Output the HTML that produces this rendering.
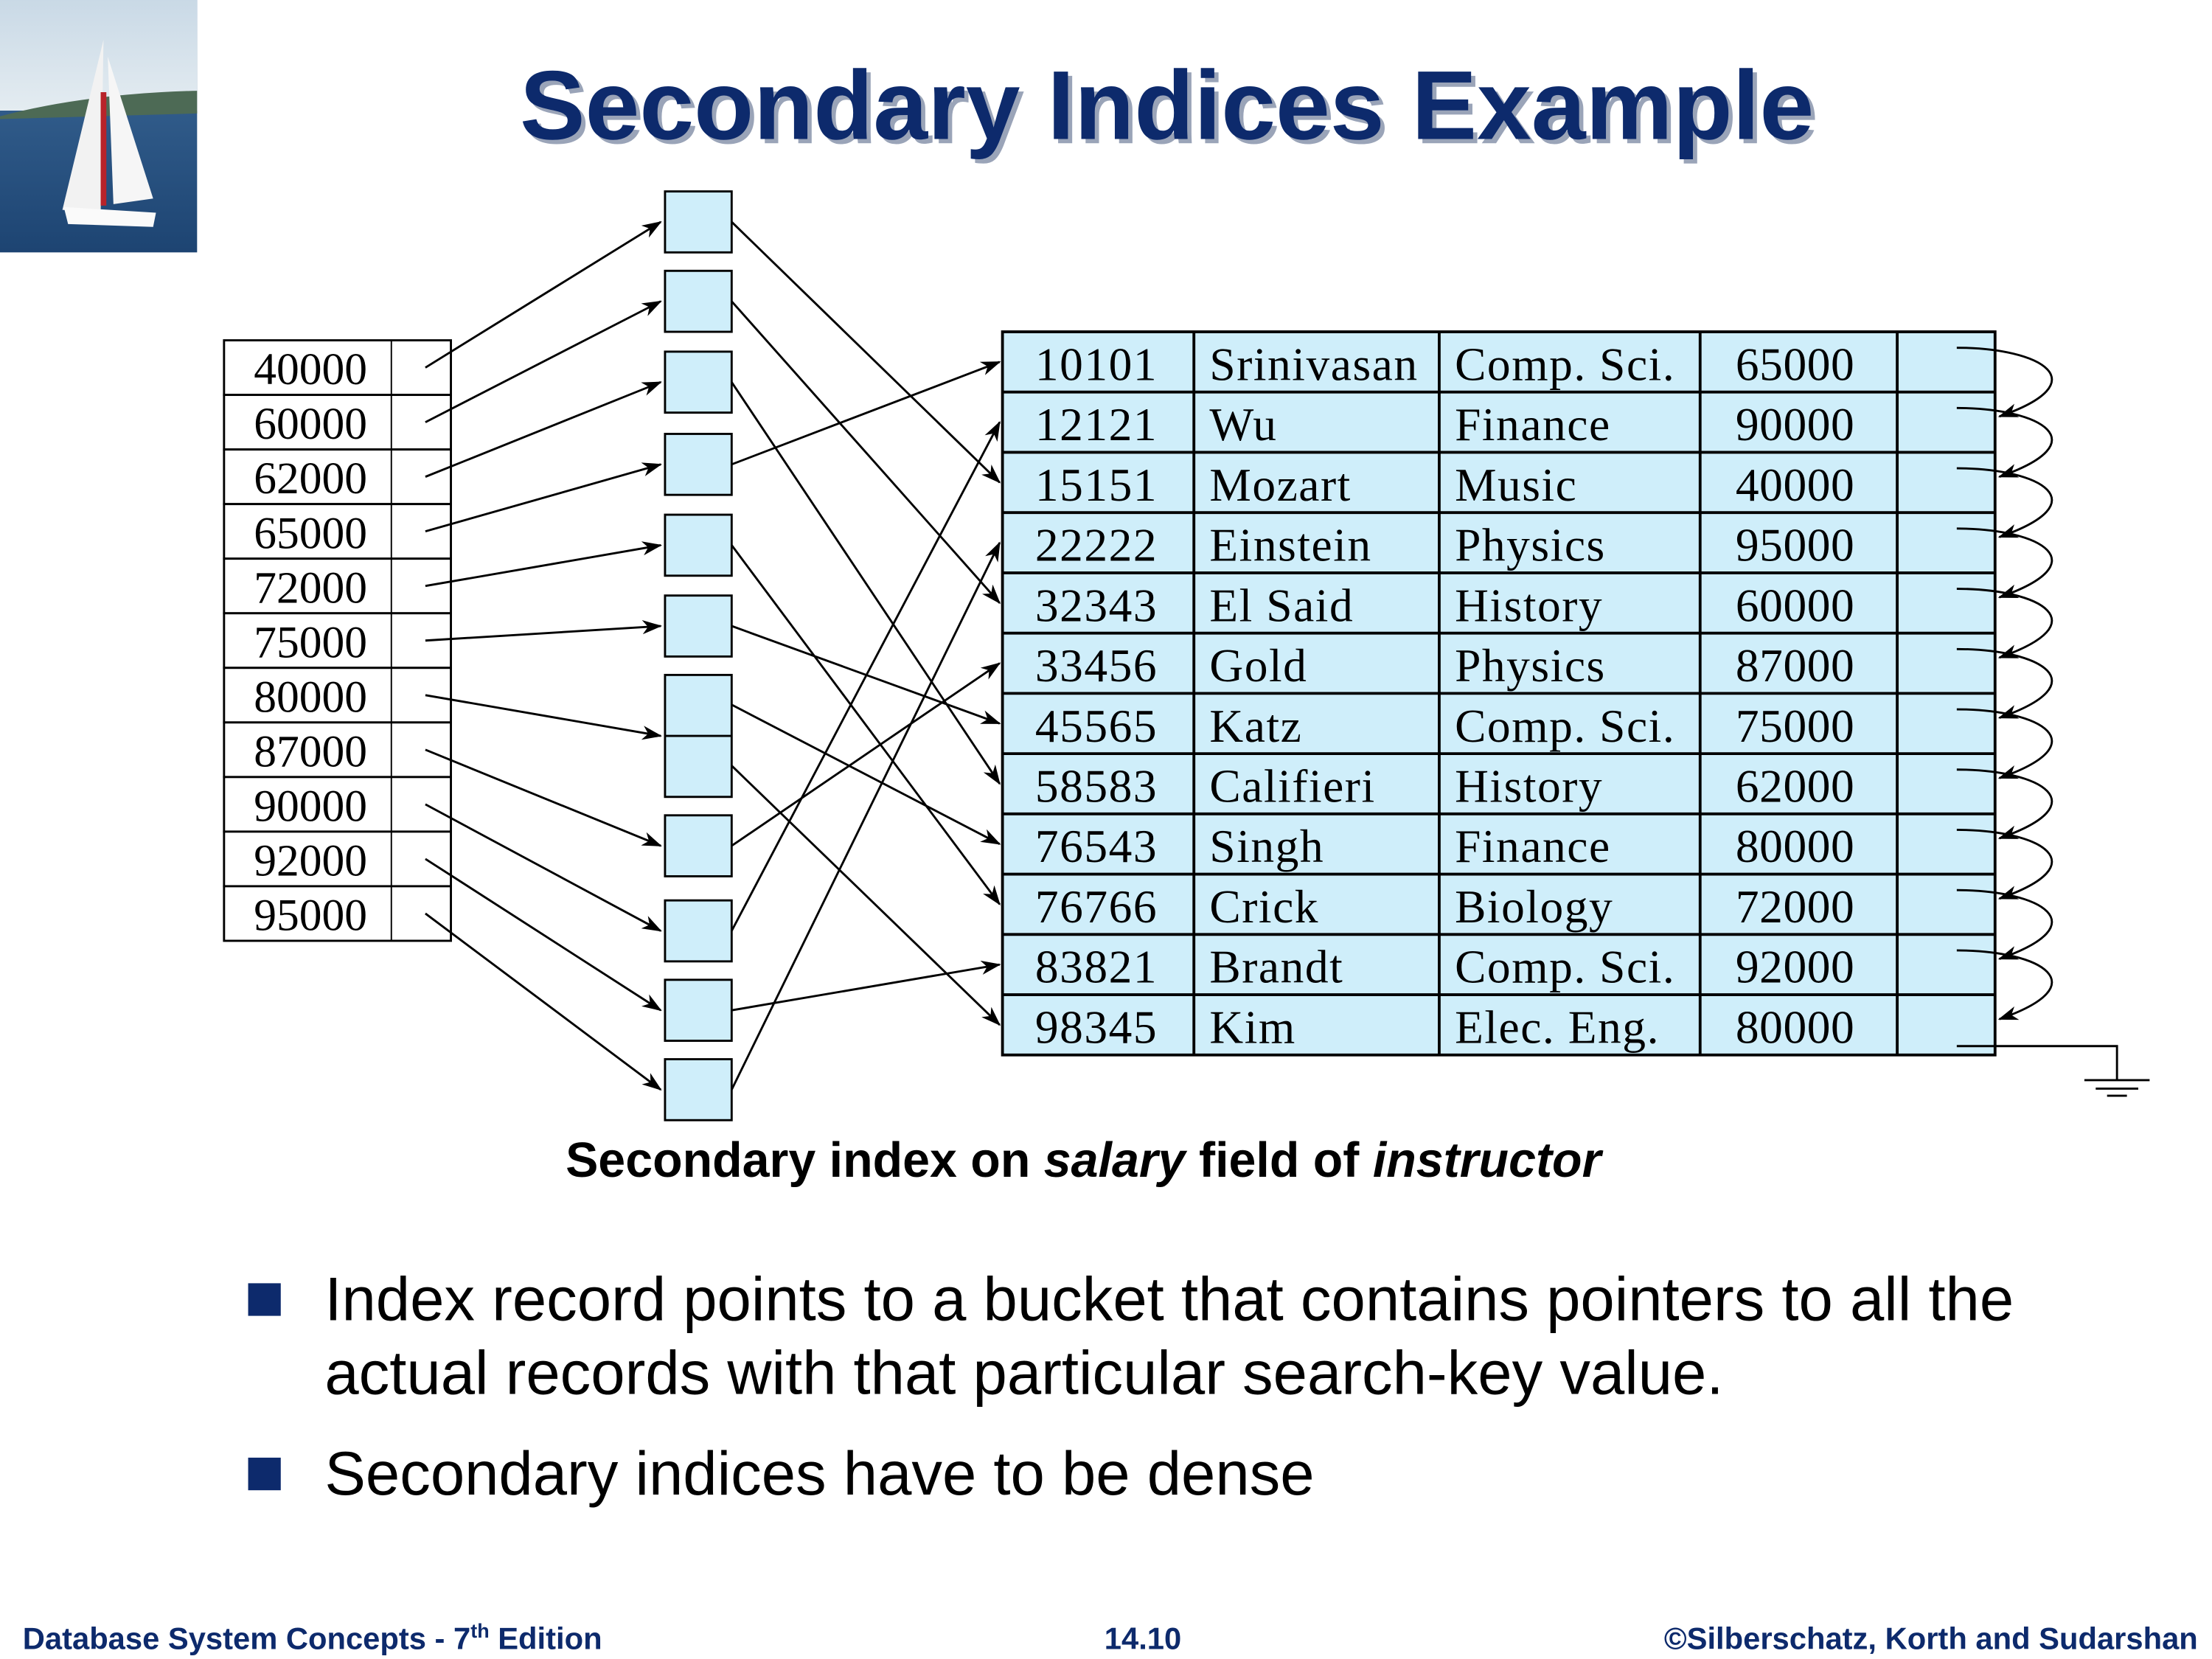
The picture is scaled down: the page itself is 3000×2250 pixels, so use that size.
<!DOCTYPE html>
<html><head><meta charset="utf-8">
<style>
html,body{margin:0;padding:0;background:#fff;}
svg{display:block;}
</style></head>
<body>
<svg id="s" width="3000" height="2250" viewBox="0 0 1560 1170" xmlns="http://www.w3.org/2000/svg">
<defs>
<marker id="ah" markerWidth="14" markerHeight="10" refX="13" refY="5" orient="auto" markerUnits="userSpaceOnUse">
<path d="M0,0 L14,5 L0,10 L4,5 Z" fill="#000"/>
</marker>
<linearGradient id="sky" x1="0" y1="0" x2="0" y2="1">
<stop offset="0" stop-color="#c9d9e6"/><stop offset="1" stop-color="#e4ecf1"/>
</linearGradient>
<linearGradient id="sea" x1="0" y1="0" x2="0" y2="1">
<stop offset="0" stop-color="#3f6d9c"/><stop offset="1" stop-color="#1d4472"/>
</linearGradient>
</defs>
<g>
<rect x="0" y="0" width="139" height="178" fill="url(#sea)"/>
<rect x="0" y="0" width="139" height="78" fill="url(#sky)"/>
<path d="M0,82 Q60,66 139,64 L139,80 L0,84 Z" fill="#4d6a55"/>
<path d="M73,28 L71,150 L44,148 Z" fill="#f2f2f2"/>
<path d="M76,40 L108,140 L80,144 Z" fill="#f6f6f6"/>
<rect x="71" y="65" width="4" height="80" fill="#b8232a"/>
<path d="M45,146 L110,150 L108,160 L48,158 Z" fill="#fafafa"/>
</g>
<text x="823" y="98" text-anchor="middle" font-family="Liberation Sans, sans-serif" font-weight="bold" font-size="69" fill="#9aa4b8" transform="translate(3,3)">Secondary Indices Example</text>
<text x="823" y="98" text-anchor="middle" font-family="Liberation Sans, sans-serif" font-weight="bold" font-size="69" fill="#0d2a6c">Secondary Indices Example</text>
<g id="diagram"></g>
<text x="764" y="830" text-anchor="middle" font-family="Liberation Sans, sans-serif" font-weight="bold" font-size="34.5" fill="#000">Secondary index on <tspan font-style="italic">salary</tspan> field of <tspan font-style="italic">instructor</tspan></text>
<rect x="175" y="905" width="23" height="23" fill="#0d2a6c"/>
<text x="229" y="931" font-family="Liberation Sans, sans-serif" font-size="43.3" fill="#000">Index record points to a bucket that contains pointers to all the</text>
<text x="229" y="983" font-family="Liberation Sans, sans-serif" font-size="43.3" fill="#000">actual records with that particular search-key value.</text>
<rect x="175" y="1028" width="23" height="23" fill="#0d2a6c"/>
<text x="229" y="1054" font-family="Liberation Sans, sans-serif" font-size="43.3" fill="#000">Secondary indices have to be dense</text>
<text x="16" y="1163" font-family="Liberation Sans, sans-serif" font-weight="bold" font-size="21.7" fill="#0d2a6c">Database System Concepts - 7<tspan font-size="14" dy="-8">th</tspan><tspan dy="8"> Edition</tspan></text>
<text x="806" y="1163" text-anchor="middle" font-family="Liberation Sans, sans-serif" font-weight="bold" font-size="21.7" fill="#0d2a6c">14.10</text>
<text x="1550" y="1163" text-anchor="end" font-family="Liberation Sans, sans-serif" font-weight="bold" font-size="21.7" fill="#0d2a6c">©Silberschatz, Korth and Sudarshan</text>
</svg>
<script>
const indexKeys = ["40000","60000","62000","65000","72000","75000","80000","87000","90000","92000","95000"];
const ids = ["10101","12121","15151","22222","32343","33456","45565","58583","76543","76766","83821","98345"];
const names = ["Srinivasan","Wu","Mozart","Einstein","El Said","Gold","Katz","Califieri","Singh","Crick","Brandt","Kim"];
const depts = ["Comp. Sci.","Finance","Music","Physics","History","Physics","Comp. Sci.","History","Finance","Biology","Comp. Sci.","Elec. Eng."];
const salaries = ["65000","90000","40000","95000","60000","87000","75000","62000","80000","72000","92000","80000"];

const NS="http://www.w3.org/2000/svg";
const g=document.getElementById('diagram');
function mk(tag,attrs,parent){const e=document.createElementNS(NS,tag);for(const k in attrs)e.setAttribute(k,attrs[k]);(parent||g).appendChild(e);return e;}
const serif="Liberation Serif, serif";

// index table
const ix0=158, ix1=318, idv=276, iy0=240, ih=38.5;
indexKeys.forEach((k,i)=>{
  const y=iy0+i*ih;
  const r=mk('rect',{x:ix0,y:y,width:ix1-ix0,height:ih,fill:'#fff',stroke:'#000','stroke-width':1.5});
  
  
  mk('line',{x1:idv,y1:y,x2:idv,y2:y+ih,stroke:'#000','stroke-width':1});
  const t=mk('text',{x:179,y:y+31,'font-family':serif,'font-size':32,fill:'#000'});
  t.textContent=k;
  
  
});

// buckets
const bx=469, bw=47, bh=43;
const bucketY=[135,191,248,306,363,420,476,575,635,691,747];
bucketY.forEach((y,i)=>{
  const h = i===6 ? 86 : bh;
  const r=mk('rect',{x:bx,y:y,width:bw,height:h,fill:'#cfeefa',stroke:'#000','stroke-width':1.5});
  
  
  if(i===6) mk('line',{x1:bx,y1:y+43,x2:bx+bw,y2:y+43,stroke:'#000','stroke-width':1.5});
});

// main table
const cols=[707,842,1015,1199,1338,1407], ty0=234, rh=42.5;
mk('rect',{x:707,y:ty0,width:700,height:rh*12,fill:'#cfeefa',stroke:'#000','stroke-width':2});
ids.forEach((id,i)=>{
  const y=ty0+i*rh;
  const row=mk('g',{});
  
  
  if(i>0) mk('line',{x1:707,y1:y,x2:1407,y2:y,stroke:'#000','stroke-width':2},row);
  [id,names[i],depts[i]].forEach((v,j)=>{
    const t=mk('text',{x:cols[j]+(j===0?23:11),y:y+34,'font-family':serif,'font-size':33,'letter-spacing':0.8,fill:'#000'},row);
    t.textContent=v;
  });
  const t=mk('text',{x:1224,y:y+34,'font-family':serif,'font-size':33,'letter-spacing':0.3,fill:'#000'},row);
  t.textContent=salaries[i];
});
cols.slice(1,5).forEach(x=>mk('line',{x1:x,y1:ty0,x2:x,y2:ty0+rh*12,stroke:'#000','stroke-width':2}));

const rowC=i=>ty0+i*rh+rh/2;
// index -> bucket arrows
indexKeys.forEach((k,i)=>{
  const y=iy0+i*ih+ih/2;
  const by = i===6 ? bucketY[6]+43 : bucketY[i]+bh/2;
  const l=mk('line',{x1:300,y1:y,x2:466,y2:by,stroke:'#000','stroke-width':1.5,'marker-end':'url(#ah)'});
  
  
});
// bucket -> record arrows
indexKeys.forEach((k,i)=>{
  let slot=0;
  salaries.forEach((s,r)=>{
    if(s!==k) return;
    const by = i===6 ? bucketY[6]+21+slot*43 : bucketY[i]+bh/2;
    slot++;
    const l=mk('line',{x1:516,y1:by,x2:705,y2:rowC(r),stroke:'#000','stroke-width':1.5,'marker-end':'url(#ah)'});
    
    
  });
});
// chain pointers
for(let i=0;i<11;i++){
  const y1=rowC(i)-10, y2=rowC(i+1)-4;
  const p=mk('path',{d:`M1380,${y1} C1440,${y1} 1480,${(y1+y2)/2} 1410,${y2}`,fill:'none',stroke:'#000','stroke-width':1.5,'marker-end':'url(#ah)'});
  
  
}
const gy=rowC(11)+15;
mk('path',{d:`M1380,${gy} L1493,${gy} L1493,${gy+24} M1470,${gy+24} L1516,${gy+24} M1478,${gy+30} L1508,${gy+30} M1486,${gy+35} L1500,${gy+35}`,fill:'none',stroke:'#000','stroke-width':1.5});
</script>
</body></html>
